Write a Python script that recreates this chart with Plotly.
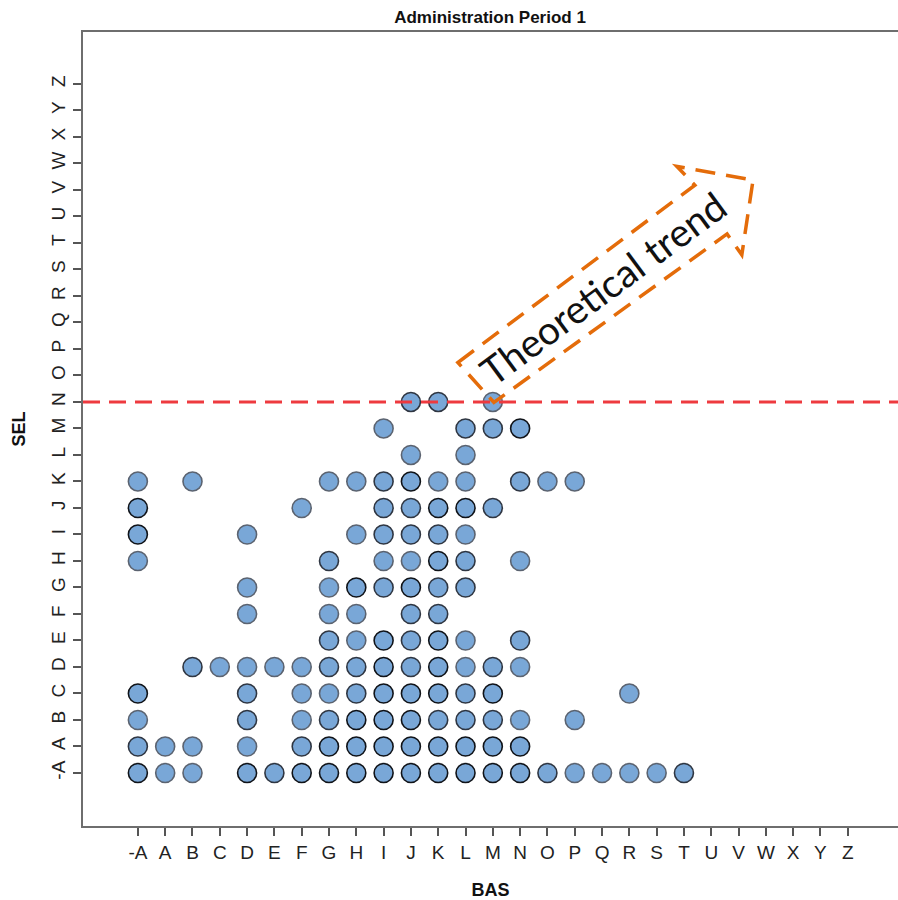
import plotly.graph_objects as go

categories = ["-A", "A", "B", "C", "D", "E", "F", "G", "H", "I", "J", "K", "L", "M",
              "N", "O", "P", "Q", "R", "S", "T", "U", "V", "W", "X", "Y", "Z"]

# Observed (BAS, SEL) pairs and an estimate of how many records overlap at each spot
bas = (["-A", "A", "B", "D", "E", "F", "G", "H", "I", "J", "K", "L", "M", "N", "O", "P", "Q", "R", "S", "T"]
       + ["-A", "A", "B", "D", "F", "G", "H", "I", "J", "K", "L", "M", "N"]
       + ["-A", "D", "F", "G", "H", "I", "J", "K", "L", "M", "N", "P"]
       + ["-A", "D", "F", "G", "H", "I", "J", "K", "L", "M", "R"]
       + ["B", "C", "D", "E", "F", "G", "H", "I", "J", "K", "L", "M", "N"]
       + ["G", "H", "I", "J", "K", "L", "N"]
       + ["D", "G", "H", "J", "K"]
       + ["D", "G", "H", "I", "J", "K", "L"]
       + ["-A", "G", "I", "J", "K", "L", "N"]
       + ["-A", "D", "H", "I", "J", "K", "L"]
       + ["-A", "F", "I", "J", "K", "L", "M"]
       + ["-A", "B", "G", "H", "I", "J", "K", "L", "N", "O", "P"]
       + ["J", "L"]
       + ["I", "L", "M", "N"]
       + ["J", "K", "M"])
sel = (["-A"] * 20 + ["A"] * 13 + ["B"] * 12 + ["C"] * 11 + ["D"] * 13 + ["E"] * 7
       + ["F"] * 5 + ["G"] * 7 + ["H"] * 7 + ["I"] * 7 + ["J"] * 7 + ["K"] * 11
       + ["L"] * 2 + ["M"] * 4 + ["N"] * 3)
overlap = ([3, 1, 1, 3, 2, 3, 3, 3, 3, 3, 3, 3, 3, 3, 2, 1, 1, 1, 1, 2]
           + [2, 1, 1, 1, 2, 3, 3, 3, 3, 3, 3, 3, 3]
           + [1, 2, 1, 2, 3, 3, 3, 2, 2, 2, 1, 1]
           + [3, 2, 1, 1, 2, 3, 3, 3, 2, 3, 1]
           + [2, 1, 1, 1, 1, 2, 2, 3, 2, 3, 1, 2, 1]
           + [2, 1, 3, 2, 3, 1, 2]
           + [1, 1, 1, 2, 2]
           + [1, 1, 3, 2, 3, 2, 2]
           + [1, 2, 1, 1, 3, 2, 1]
           + [3, 1, 1, 2, 2, 2, 1]
           + [3, 1, 2, 2, 3, 3, 2]
           + [1, 1, 1, 1, 2, 3, 1, 1, 2, 1, 1]
           + [1, 1]
           + [1, 2, 2, 3]
           + [2, 2, 1])

reference_level = "N"
trend_label = "Theoretical trend"

idx = {c: i for i, c in enumerate(categories)}
xs = [idx[b] for b in bas]
ys = [idx[s] for s in sel]
edge_shades = {1: "#5b6370", 2: "#2f3642", 3: "#101318"}
edge_cols = [edge_shades[n] for n in overlap]

FONT = "Liberation Sans Narrow, Arial Narrow, Liberation Sans, Arial, sans-serif"

fig = go.Figure()
fig.add_trace(go.Scatter(
    x=xs, y=ys, mode="markers",
    marker=dict(size=19, color="#79a7d7",
                line=dict(color=edge_cols, width=1.6)),
    hoverinfo="skip", showlegend=False))

# reference line
fig.add_shape(type="line", xref="paper", x0=0, x1=1, yref="y",
              y0=idx[reference_level], y1=idx[reference_level],
              line=dict(color="#ee3a3f", width=3, dash="17px,9px"), layer="above")

# dashed arrow outline
arrow = [(11.72, 15.49), (20.40, 22.18), (19.74, 22.89), (22.53, 22.37),
         (22.12, 19.55), (21.58, 20.34), (13.04, 13.98)]
path = "M " + " L ".join(f"{x},{y}" for x, y in arrow) + " Z"
fig.add_shape(type="path", path=path, xref="x", yref="y",
              line=dict(color="#e46c0a", width=3.5, dash="20px,11px"), layer="above")

fig.add_annotation(x=17.03, y=18.30, xref="x", yref="y", text=trend_label,
                   showarrow=False, textangle=-36.5,
                   font=dict(family="Lato, Open Sans, sans-serif", size=39, color="#111"))

axis_common = dict(
    tickmode="array", tickvals=list(range(len(categories))), ticktext=categories,
    ticks="outside", ticklen=8, tickwidth=1.5, tickcolor="#555",
    showline=True, linecolor="#6e6e6e", linewidth=2,
    showgrid=False, zeroline=False,
    tickfont=dict(family=FONT, size=19, color="#222"),
)

fig.update_xaxes(**axis_common, range=[-2.01, 27.84], mirror=True,
                 title=dict(text="<b>BAS</b>", font=dict(family=FONT, size=18, color="#111"),
                            standoff=22))
fig.update_yaxes(**axis_common, range=[-2.0, 27.96], tickangle=-90,
                 title=dict(text="<b>SEL</b>", font=dict(family=FONT, size=18, color="#111"),
                            standoff=18))

fig.update_layout(
    width=898, height=900,
    margin=dict(l=83, r=0, t=32, b=74),
    paper_bgcolor="white", plot_bgcolor="white",
    title=dict(text="<b>Administration Period 1</b>", x=490 / 898, xanchor="center",
               y=1 - 17 / 900, yanchor="middle", yref="container",
               font=dict(family=FONT, size=17, color="#111")),
)

fig.write_html("out.html",
               config={"displayModeBar": False},
               post_script="document.body.style.margin='0';"
                           "document.body.style.overflow='hidden';")
